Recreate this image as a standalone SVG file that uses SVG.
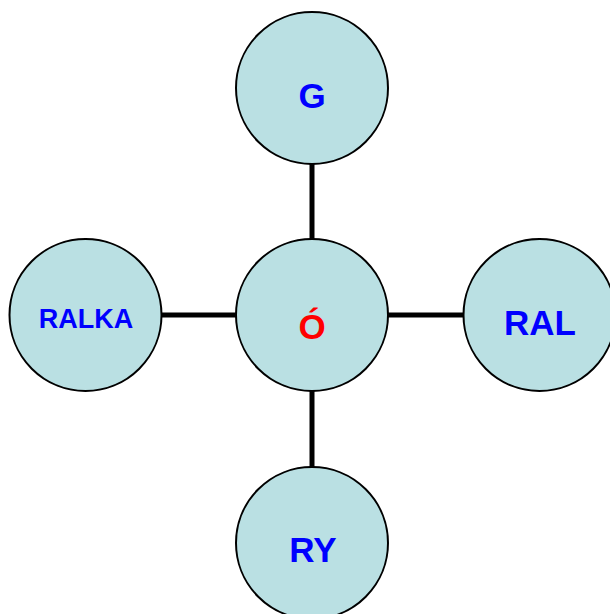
<svg xmlns="http://www.w3.org/2000/svg" width="610" height="614" viewBox="0 0 610 614">
<style>
.node{fill:#BAE0E3;stroke:#000;stroke-width:2}
.lbl{font-family:"Liberation Sans",Arial,sans-serif;font-weight:bold;text-anchor:middle;fill:#0000FF}
.big{font-size:35px}
.small{font-size:27px}
.edge{stroke:#000;stroke-width:5;fill:none}
</style>
<rect width="610" height="614" fill="#fff"/>
<g id="connectors">
<line class="edge" x1="312" y1="163" x2="312" y2="240"/>
<line class="edge" x1="312" y1="390" x2="312" y2="468"/>
<line class="edge" x1="161" y1="315" x2="237" y2="315"/>
<line class="edge" x1="387" y1="315" x2="464" y2="315"/>
</g>
<g id="node-G">
<circle class="node" cx="312" cy="88" r="76"/>
<text class="lbl big" x="312" y="108">G</text>
</g>
<g id="node-O">
<circle class="node" cx="312" cy="315" r="76"/>
<text class="lbl big" x="312" y="339" style="fill:#FF0000">Ó</text>
</g>
<g id="node-RALKA">
<circle class="node" cx="85.5" cy="315" r="76"/>
<text class="lbl small" x="86" y="328">RALKA</text>
</g>
<g id="node-RAL">
<circle class="node" cx="539.5" cy="315" r="76"/>
<text class="lbl big" x="540" y="335">RAL</text>
</g>
<g id="node-RY">
<circle class="node" cx="312" cy="543" r="76"/>
<text class="lbl big" x="313" y="562">RY</text>
</g>
</svg>
